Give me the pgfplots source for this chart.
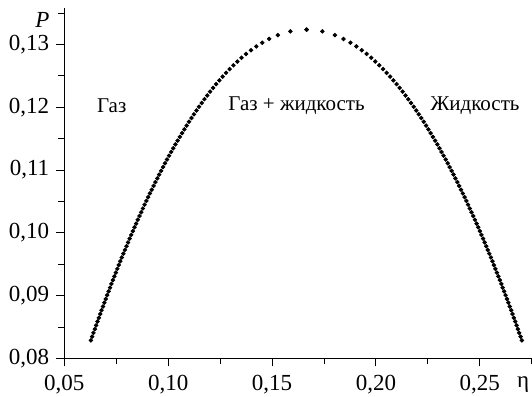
\documentclass[border=0pt]{standalone}
\usepackage{fontspec}
\setmainfont{Liberation Serif}
\usepackage{pgfplots}
\usepackage{pgfplotstable}
\pgfplotsset{compat=1.18}
\pgfplotstableread{
P L R
0.13235 0.16660 0.16660
0.13208 0.15884 0.17416
0.13148 0.15275 0.18025
0.13088 0.14862 0.18438
0.13028 0.14528 0.18772
0.12968 0.14241 0.19059
0.12908 0.13983 0.19317
0.12848 0.13749 0.19551
0.12788 0.13532 0.19768
0.12728 0.13330 0.19970
0.12668 0.13139 0.20161
0.12608 0.12958 0.20342
0.12548 0.12785 0.20515
0.12488 0.12620 0.20680
0.12428 0.12461 0.20839
0.12368 0.12308 0.20992
0.12308 0.12160 0.21140
0.12248 0.12017 0.21283
0.12188 0.11879 0.21421
0.12128 0.11744 0.21556
0.12068 0.11613 0.21687
0.12008 0.11485 0.21815
0.11948 0.11360 0.21940
0.11888 0.11238 0.22062
0.11828 0.11119 0.22181
0.11768 0.11002 0.22298
0.11708 0.10888 0.22412
0.11648 0.10776 0.22524
0.11588 0.10666 0.22634
0.11528 0.10558 0.22742
0.11468 0.10451 0.22849
0.11408 0.10347 0.22953
0.11348 0.10244 0.23056
0.11288 0.10143 0.23157
0.11228 0.10044 0.23256
0.11168 0.09946 0.23354
0.11108 0.09849 0.23451
0.11048 0.09754 0.23546
0.10988 0.09660 0.23640
0.10928 0.09567 0.23733
0.10868 0.09476 0.23824
0.10808 0.09386 0.23914
0.10748 0.09296 0.24004
0.10688 0.09208 0.24092
0.10628 0.09121 0.24179
0.10568 0.09035 0.24265
0.10508 0.08950 0.24350
0.10448 0.08865 0.24435
0.10388 0.08782 0.24518
0.10328 0.08700 0.24600
0.10268 0.08618 0.24682
0.10208 0.08537 0.24763
0.10148 0.08457 0.24843
0.10088 0.08378 0.24922
0.10028 0.08299 0.25001
0.09968 0.08222 0.25078
0.09908 0.08145 0.25155
0.09848 0.08068 0.25232
0.09788 0.07993 0.25307
0.09728 0.07918 0.25382
0.09668 0.07843 0.25457
0.09608 0.07769 0.25531
0.09548 0.07696 0.25604
0.09488 0.07624 0.25676
0.09428 0.07552 0.25748
0.09368 0.07480 0.25820
0.09308 0.07409 0.25891
0.09248 0.07339 0.25961
0.09188 0.07269 0.26031
0.09128 0.07200 0.26100
0.09068 0.07131 0.26169
0.09008 0.07063 0.26237
0.08948 0.06995 0.26305
0.08888 0.06928 0.26372
0.08828 0.06861 0.26439
0.08768 0.06794 0.26506
0.08708 0.06729 0.26571
0.08648 0.06663 0.26637
0.08588 0.06598 0.26702
0.08528 0.06533 0.26767
0.08468 0.06469 0.26831
0.08408 0.06405 0.26895
0.08348 0.06342 0.26958
0.08288 0.06279 0.27021
}\coex
\begin{document}
\begin{tikzpicture}
\useasboundingbox (-32.15pt,-19.25pt) rectangle (233.85pt,179.25pt);
\begin{axis}[
  scale only axis,
  width=233.85pt, height=175.25pt,
  at={(0,0)}, anchor=south west,
  xmin=0.05, xmax=0.2751,
  ymin=0.08, ymax=0.1358,
  axis x line=bottom, axis y line=left,
  axis line style={-, line width=0.6pt},
  tick align=outside,
  major tick length=4pt, minor tick length=3pt,
  every tick/.style={black, line width=0.5pt},
  xtick={0.05,0.10,0.15,0.20,0.25},
  ytick={0.08,0.09,0.10,0.11,0.12,0.13},
  xticklabels={0,05,0,10,0,15,0,20,0,25},
  xticklabels={{0,05},{0,10},{0,15},{0,20},{0,25}},
  yticklabels={{0,08},{0,09},{0,10},{0,11},{0,12},{0,13}},
  minor xtick={0.075,0.125,0.175,0.225,0.275},
  minor ytick={0.085,0.095,0.105,0.115,0.125,0.135},
  scaled ticks=false,
  tick label style={font=\fontsize{11.5}{13}\selectfont},
  xticklabel style={yshift=-1pt},
  clip=false,
]
\addplot[only marks, mark=*, mark size=0.9pt, black] table[x=L, y=P] {\coex};
\addplot[only marks, mark=*, mark size=0.9pt, black] table[x=R, y=P] {\coex};
\node[anchor=base, font=\fontsize{10.5}{12}\selectfont] at (axis cs:0.0728,0.11912) {Газ};
\node[anchor=base, font=\fontsize{10.5}{12}\selectfont] at (axis cs:0.1618,0.11944) {Газ + жидкость};
\node[anchor=base, font=\fontsize{10.5}{12}\selectfont] at (axis cs:0.2477,0.11944) {Жидкость};
\node[font=\fontsize{11.5}{13}\selectfont\itshape] at (axis cs:0.0395,0.13394) {P};
\node[font=\fontsize{11.5}{13}\selectfont] at (axis cs:0.27083,0.07578) {η};
\end{axis}
\end{tikzpicture}
\end{document}
